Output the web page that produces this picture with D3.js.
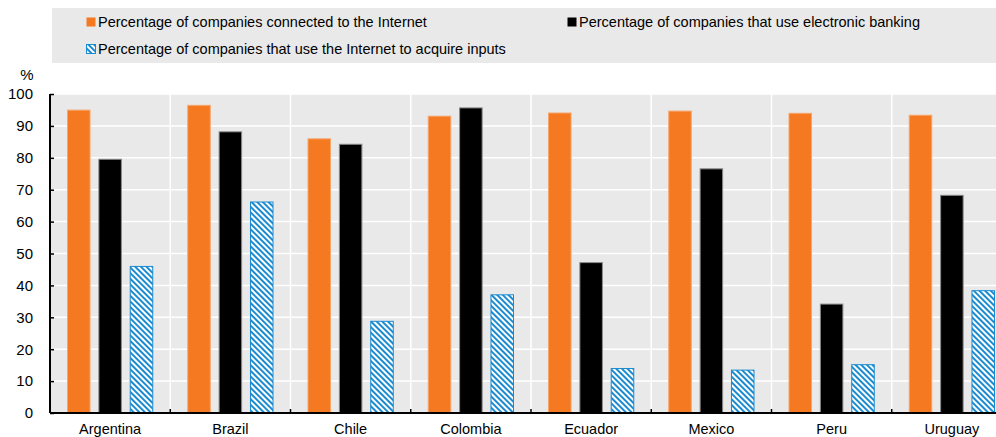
<!DOCTYPE html>
<html>
<head>
<meta charset="utf-8">
<script src="https://cdn.jsdelivr.net/npm/d3@7"></script>
<style>
body { margin: 0; background: #fff; }
text { font-family: "Liberation Sans", Arial, sans-serif; fill: #000; }
</style>
</head>
<body>
<script>
const WIDTH = 996;
const HEIGHT = 437;

var countries = ['Argentina','Brazil','Chile','Colombia','Ecuador','Mexico','Peru','Uruguay'];
var seriesNames = [
	'Percentage of companies connected to the Internet',
	'Percentage of companies that use electronic banking',
	'Percentage of companies that use the Internet to acquire inputs'
];
var connected = [95.1, 96.6, 86.1, 93.2, 94.2, 94.8, 94.1, 93.5];
var banking = [79.7, 88.3, 84.4, 95.8, 47.3, 76.7, 34.3, 68.4];
var inputs = [46.1, 66.3, 28.9, 37.2, 14.1, 13.6, 15.3, 38.5];
var yTicks = [0,10,20,30,40,50,60,70,80,90,100];

const PLOT_LEFT = 50, PLOT_RIGHT = 1012, PLOT_TOP = 94, PLOT_BOTTOM = 413;

var svg = d3.select('body').append('svg')
	.attr('width', WIDTH)
	.attr('height', HEIGHT);

var defs = svg.append('defs');
var pat = defs.append('pattern')
	.attr('id','hatch')
	.attr('patternUnits','userSpaceOnUse')
	.attr('width',4).attr('height',4)
	.attr('patternTransform','rotate(45)');
pat.append('rect').attr('width',4).attr('height',4).attr('fill','#fff');
pat.append('rect').attr('width',4).attr('height',2).attr('fill','#1b8bd0');

var xScale = d3.scaleBand().domain(countries).range([PLOT_LEFT, PLOT_RIGHT]);
var yScale = d3.scaleLinear().domain([0,100]).range([PLOT_BOTTOM, PLOT_TOP]);
var inner = d3.scaleBand().domain([0,1,2])
	.range([17, xScale.bandwidth() - 17]).paddingInner(0.25);

// plot background
svg.append('rect')
	.attr('x', PLOT_LEFT).attr('y', PLOT_TOP)
	.attr('width', PLOT_RIGHT - PLOT_LEFT).attr('height', PLOT_BOTTOM - PLOT_TOP)
	.attr('fill', '#e9e9e9');

// horizontal grid
svg.append('g').selectAll('line')
	.data(yTicks.slice(1))
	.enter().append('line')
	.attr('x1', PLOT_LEFT).attr('x2', PLOT_RIGHT)
	.attr('y1', function(d){ return yScale(d); })
	.attr('y2', function(d){ return yScale(d); })
	.attr('stroke', '#fff').attr('stroke-width', 1.5);

// vertical separators
svg.append('g').selectAll('line')
	.data(countries.slice(1))
	.enter().append('line')
	.attr('x1', function(d){ return xScale(d); })
	.attr('x2', function(d){ return xScale(d); })
	.attr('y1', PLOT_TOP).attr('y2', PLOT_BOTTOM)
	.attr('stroke', '#fff').attr('stroke-width', 1.5);

// legend box
svg.append('rect')
	.attr('x', 52).attr('y', 8).attr('width', 944).attr('height', 55)
	.attr('fill', '#e9e9e9');

var legendItems = [
	{x: 86, y: 17, fill: '#f47920', stroke: 'none'},
	{x: 567, y: 17, fill: '#000', stroke: 'none'},
	{x: 86, y: 44, fill: 'url(#hatch)', stroke: '#1b8bd0'}
];
var leg = svg.append('g').selectAll('g')
	.data(legendItems)
	.enter().append('g');
leg.append('rect')
	.attr('x', function(d){ return d.x + 0.5; })
	.attr('y', function(d){ return d.y + 0.5; })
	.attr('width', 9).attr('height', 9)
	.attr('fill', function(d){ return d.fill; })
	.attr('stroke', function(d){ return d.stroke; });
leg.append('text')
	.attr('x', function(d){ return d.x + 12; })
	.attr('y', function(d){ return d.y + 10; })
	.attr('font-size', '14.5px')
	.text(function(d, i){ return seriesNames[i]; });

// bars
var series = [
	{values: connected, fill: '#f47920', stroke: '#f7a56a'},
	{values: banking, fill: '#000', stroke: '#8a8a8a'},
	{values: inputs, fill: 'url(#hatch)', stroke: '#1b8bd0'}
];
series.forEach(function(s, si){
	svg.append('g').selectAll('rect')
		.data(s.values)
		.enter().append('rect')
		.attr('x', function(d, i){ return xScale(countries[i]) + inner(si) + 0.5; })
		.attr('y', function(d){ return yScale(d) + 0.5; })
		.attr('width', inner.bandwidth() - 1)
		.attr('height', function(d){ return yScale(0) - yScale(d) - 0.5; })
		.attr('fill', s.fill)
		.attr('stroke', s.stroke).attr('stroke-width', 1);
});

// y axis
var yAxis = d3.axisLeft(yScale).tickValues(yTicks).tickSize(-4).tickPadding(17);
var yg = svg.append('g')
	.attr('transform', 'translate(' + PLOT_LEFT + ',0)')
	.call(yAxis);
yg.select('.domain').attr('stroke', '#000').attr('stroke-width', 2).attr('d', 'M0,' + PLOT_TOP + 'V' + PLOT_BOTTOM);
yg.selectAll('.tick line').attr('stroke', '#000').attr('stroke-width', 1.5);
yg.selectAll('.tick text').attr('font-size', '15px').attr('font-family', '"Liberation Sans", Arial, sans-serif');

svg.append('text')
	.attr('x', 27).attr('y', 80)
	.attr('text-anchor', 'middle')
	.attr('font-size', '15px')
	.text('%');

// x axis
var xAxis = d3.axisBottom(xScale).tickSize(0).tickPadding(11);
var xg = svg.append('g')
	.attr('transform', 'translate(0,' + PLOT_BOTTOM + ')')
	.call(xAxis);
xg.select('.domain').attr('stroke', '#000').attr('stroke-width', 2).attr('d', 'M' + PLOT_LEFT + ',0H' + PLOT_RIGHT);
xg.selectAll('.tick text').attr('font-size', '14.5px').attr('font-family', '"Liberation Sans", Arial, sans-serif');

// small ticks at category boundaries
svg.append('g').selectAll('line')
	.data(countries.slice(1))
	.enter().append('line')
	.attr('x1', function(d){ return xScale(d); })
	.attr('x2', function(d){ return xScale(d); })
	.attr('y1', PLOT_BOTTOM).attr('y2', PLOT_BOTTOM - 4)
	.attr('stroke', '#000').attr('stroke-width', 1.5);
</script>
</body>
</html>
